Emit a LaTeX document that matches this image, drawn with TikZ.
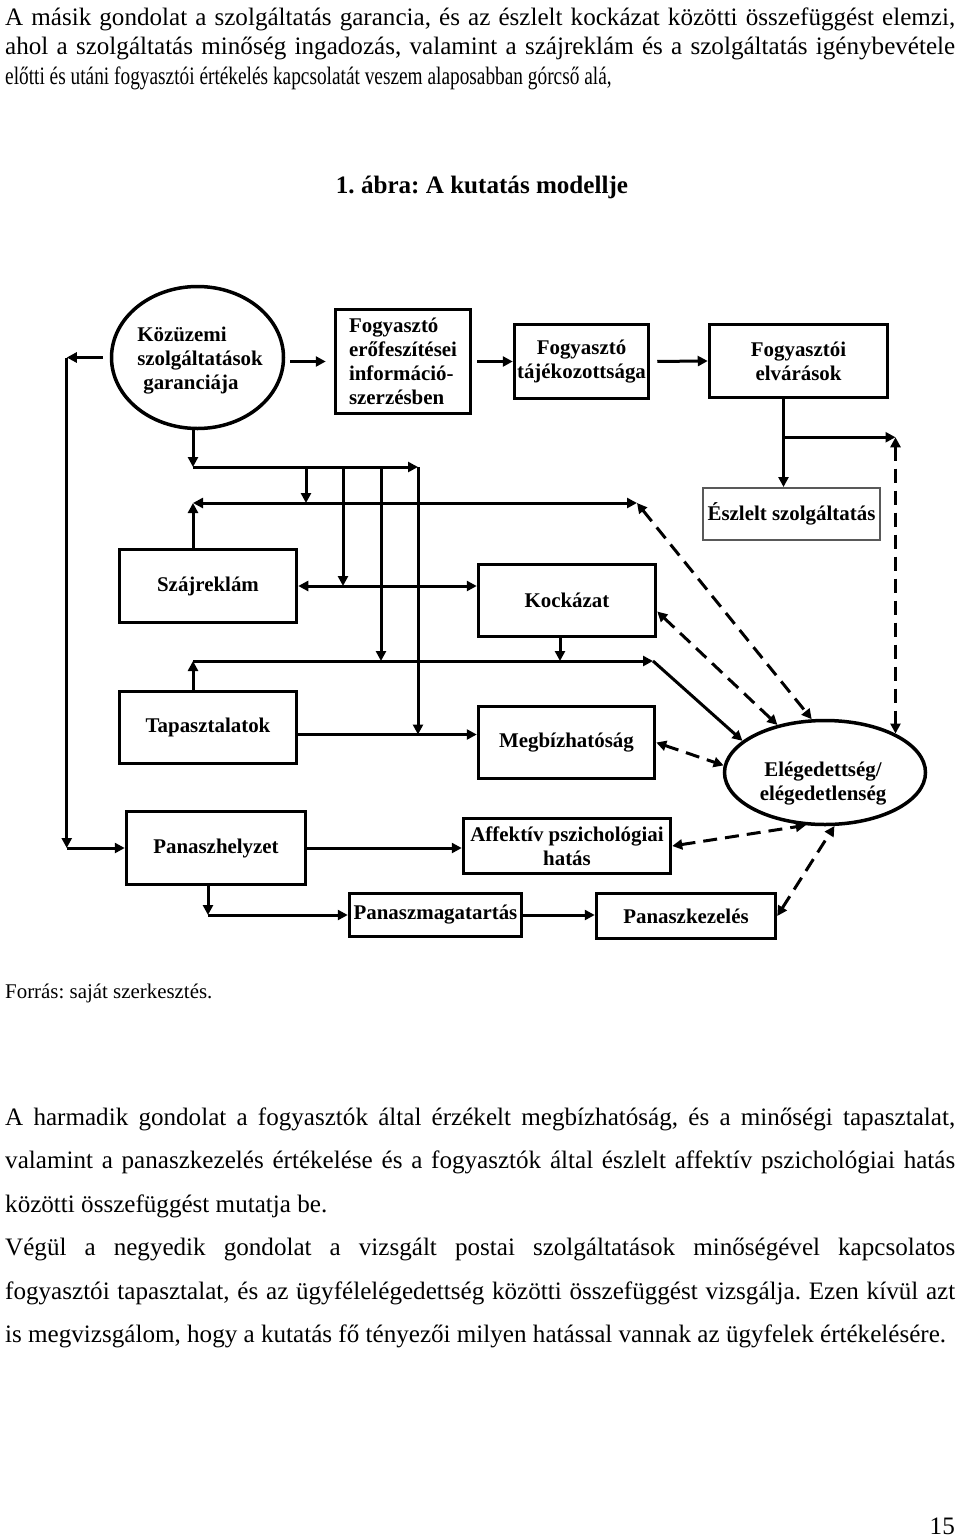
\documentclass[tikz,border=0pt]{standalone}
\usepackage{fontspec}
\setmainfont{Liberation Serif}
\newfontfamily\topfont{Liberation Serif}[FakeStretch=0.77]
\usepackage{graphicx}
\usetikzlibrary{arrows.meta,shapes.geometric,calc}
\frenchspacing
\newcommand\justline[1]{\makebox[950pt][s]{#1}}
\begin{document}
\begin{tikzpicture}[x=1pt,y=-1pt,
  box/.style={draw,line width=3.5pt,rectangle,inner sep=0pt,font=\bfseries\fontsize{20.9}{24}\selectfont,align=center},
  ell/.style={draw,line width=3.5pt,ellipse,inner sep=0pt},
  lbl/.style={font=\bfseries\fontsize{20.9}{24}\selectfont,inner sep=0pt},
  arr/.style={line width=3pt,-{Triangle[length=10pt,width=10pt]}},
  barr/.style={line width=3pt,{Triangle[length=10pt,width=10pt]}-{Triangle[length=10pt,width=10pt]}},
  dsh/.style={barr,dash pattern=on 14pt off 8pt},
  body/.style={anchor=base west,inner sep=0pt,font=\fontsize{25.1}{29}\selectfont},
  topbody/.style={anchor=base west,inner sep=0pt,font=\topfont\fontsize{25.1}{29}\selectfont},
]
\useasboundingbox (0,0) rectangle (960,1537);
% text
\node[body] (tA) at (5,25) {\justline{A másik gondolat a szolgáltatás garancia, és az észlelt kockázat közötti összefüggést elemzi,}};
\node[body] (tB) at (5,54.5) {\justline{ahol a szolgáltatás minőség ingadozás, valamint a szájreklám és a szolgáltatás igénybevétele}};
\node[topbody] (tC) at (5,84) {előtti és utáni fogyasztói értékelés kapcsolatát veszem alaposabban górcső alá,};
\node[anchor=base,inner sep=0pt,font=\bfseries\fontsize{25.1}{29}\selectfont] (title) at (482,193) {1. ábra: A kutatás modellje};
\node[anchor=base west,inner sep=0pt,font=\fontsize{20.9}{24}\selectfont] (src) at (5,998) {Forrás: saját szerkesztés.};
\node[body] (tD) at (5,1125.5) {\justline{A harmadik gondolat a fogyasztók által érzékelt megbízhatóság, és a minőségi tapasztalat,}};
\node[body] (tE) at (5,1168.9) {\justline{valamint a panaszkezelés értékelése és a fogyasztók által észlelt affektív pszichológiai hatás}};
\node[body] (tF) at (5,1212.3) {közötti összefüggést mutatja be.};
\node[body] (tG) at (5,1255.7) {\justline{Végül a negyedik gondolat a vizsgált postai szolgáltatások minőségével kapcsolatos}};
\node[body] (tH) at (5,1299.1) {\justline{fogyasztói tapasztalat, és az ügyfélelégedettség közötti összefüggést vizsgálja. Ezen kívül azt}};
\node[body] (tI) at (5,1342.5) {is megvizsgálom, hogy a kutatás fő tényezői milyen hatással vannak az ügyfelek értékelésére.};
\node[anchor=base east,inner sep=0pt,font=\fontsize{25.1}{29}\selectfont] (pnum) at (955,1534) {15};
% nodes
\node[ell,minimum width=172pt,minimum height=142pt] (gar) at (197.5,357.5) {};
\node[lbl,align=left] (gart) at (200,361) {Közüzemi\\szolgáltatások\\\hspace{6pt}garanciája};
\node[box,minimum width=135pt,minimum height=104pt,align=left] (erof) at (403,361.5) {Fogyasztó\\erőfeszítései\\információ-\\szerzésben};
\node[box,minimum width=134pt,minimum height=74pt] (taj) at (581.5,361.5) {Fogyasztó\\tájékozottsága};
\node[box,minimum width=178pt,minimum height=73pt] (elv) at (798.5,361) {Fogyasztói\\elvárások};
\node[box,line width=2pt,draw=black!65,minimum width=177pt,minimum height=52pt] (esz) at (791.5,514) {Észlelt szolgáltatás};
\node[box,minimum width=177pt,minimum height=73pt] (szaj) at (208,586) {Szájreklám};
\node[box,minimum width=177pt,minimum height=72pt] (kock) at (567,600.5) {Kockázat};
\node[box,minimum width=177pt,minimum height=72pt] (tap) at (208,727.5) {Tapasztalatok};
\node[box,minimum width=176pt,minimum height=72pt] (meg) at (566.5,742.5) {Megbízhatóság};
\node[ell,minimum width=201pt,minimum height=104pt] (eleg) at (825,772.5) {};
\node[lbl,align=center] (elegt) at (823,784) {Elégedettség/\\elégedetlenség};
\node[box,minimum width=179pt,minimum height=73pt] (pan) at (216,848) {Panaszhelyzet};
\node[box,minimum width=207pt,minimum height=55pt] (aff) at (567,846) {Affektív pszichológiai\\hatás};
\node[box,minimum width=172pt,minimum height=43pt] (mag) at (435.5,915) {Panaszmagatartás};
\node[box,minimum width=179pt,minimum height=45pt] (kez) at (686,916) {Panaszkezelés};
% left feedback
\coordinate (lc1) at ($(gar.west)+(-43,0)$);
\coordinate (lc2) at (lc1 |- pan.west);
\draw[arr,shorten <=7pt] (gar.west) -- (lc1);
\draw[arr] (lc1) -- (lc2);
\draw[arr] (lc2) -- (pan.west);
% top chain
\draw[arr,shorten <=5pt,shorten >=8pt] (gar.east |- erof.west) -- (erof.west);
\draw[arr,shorten <=5pt] (erof.east) -- (taj.west);
\draw[arr,shorten <=7pt] (taj.east) -- (elv.west);
\coordinate (elvb) at ($(elv.south)+(-15,0)$);
\draw[arr] (elvb) -- (elvb |- esz.north);
\coordinate (bre) at ($(elvb)+(112,38)$);
\draw[arr] (elvb |- bre) -- (bre);
\draw[dsh] (bre) -- (bre |- eleg.29);
% distribution
\coordinate (d0) at (193,467);
\coordinate (d1) at (306,467);
\coordinate (d2) at (343,467);
\coordinate (d3) at (381,467);
\coordinate (d4) at (418,467);
\draw[arr] (gar.south -| d0) -- (d0);
\draw[arr] (d0) -- (d4);
\coordinate (a0) at (193,503);
\coordinate (a1) at (637,503);
\draw[arr] (szaj.north -| a0) -- (a0);
\draw[barr] (a0) -- (a1);
\draw[arr] (d1) -- (d1 |- a0);
\draw[barr] (szaj.east) -- (szaj.east -| kock.west);
\draw[arr] (d2) -- (d2 |- szaj.east);
\coordinate (kb) at ($(kock.south)+(-7,0)$);
\coordinate (c0) at (193,661);
\coordinate (c1) at (653,661);
\draw[arr] (kb) -- (kb |- c0);
\draw[arr] (tap.north -| c0) -- (c0);
\draw[arr] (c0) -- (c1);
\draw[arr] (d3) -- (d3 |- c0);
\coordinate (t0) at ($(tap.east)+(0,7)$);
\draw[arr] (t0) -- (t0 -| meg.west);
\draw[arr] (d4) -- (d4 |- t0);
\draw[arr] (pan.east) -- (pan.east -| aff.west);
\coordinate (p0) at ($(pan.south)+(-8,0)$);
\coordinate (p1) at (p0 |- mag.west);
\draw[arr] (p0) -- (p1);
\draw[arr] (p1) -- (mag.west);
\draw[arr] (mag.east) -- (mag.east -| kez.west);
% into satisfaction
\draw[dsh] (a1) -- (eleg.104);
\draw[dsh] ($(kock.east)+(0,11)$) -- (eleg.135);
\draw[arr] (c1) -- (eleg.159);
\draw[dsh] (meg.east) -- (eleg.176);
\draw[dsh] (aff.east) -- (eleg.250);
\draw[dsh] (kez.east) -- (eleg.280);
\end{tikzpicture}
\end{document}
